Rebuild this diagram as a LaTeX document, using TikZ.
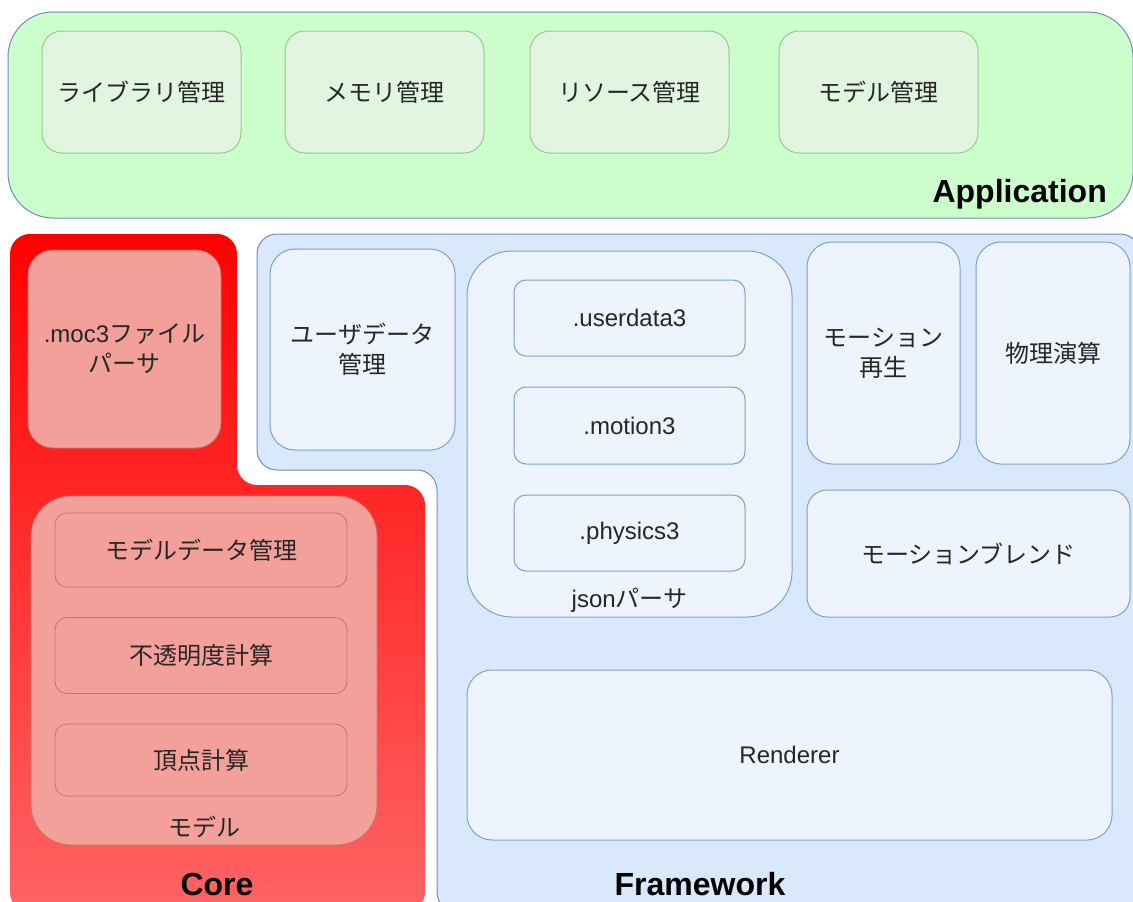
\documentclass[tikz,border=0pt]{standalone}
\usepackage{fontspec}
\setmainfont{Liberation Sans}
\newfontfamily\jp{Noto Sans CJK JP}
\definecolor{appfill}{HTML}{CCFFCC}
\definecolor{appstroke}{HTML}{6C8EBF}
\definecolor{appinfill}{HTML}{E2F5E0}
\definecolor{appinstroke}{HTML}{9CC78F}
\definecolor{corein}{HTML}{F4A09A}
\definecolor{coreinstroke}{HTML}{C0736E}
\definecolor{fwfill}{HTML}{DAE8FC}
\definecolor{fwstroke}{HTML}{6C8EBF}
\definecolor{fwin}{HTML}{EDF4FD}
\definecolor{fwinstroke}{HTML}{7EA0D6}
\definecolor{txt}{HTML}{262626}
\begin{document}
\begin{tikzpicture}[x=1pt,y=-1pt,
  lbl/.style={font=\fontsize{24}{30}\selectfont, text=txt, align=center, inner sep=0pt},
  big/.style={font=\fontsize{32}{36}\selectfont\bfseries, text=black, inner sep=0pt},
  appbox/.style={draw=appinstroke, fill=appinfill, line width=1pt, rounded corners=20pt, lbl},
  corebox/.style={draw=coreinstroke, fill=corein, line width=0.8pt, lbl},
  fwbox/.style={draw=fwinstroke, fill=fwin, line width=1pt, lbl}
]
\useasboundingbox (0,0) rectangle (1133,902);

% Application layer
\path[draw=appstroke, fill=appfill, line width=1pt, rounded corners=45pt]
  (8,12) rectangle (1133,218);
\node[appbox, minimum width=199pt, minimum height=122pt] (lib) at (141.5,92) {\jp ライブラリ管理};
\node[appbox, minimum width=199pt, minimum height=122pt] (mem) at (384.5,92) {\jp メモリ管理};
\node[appbox, minimum width=199pt, minimum height=122pt] (res) at (629.5,92) {\jp リソース管理};
\node[appbox, minimum width=199pt, minimum height=122pt] (mdl) at (878.5,92) {\jp モデル管理};
\node[big, anchor=east] (applbl) at (1107,194) {Application};

% Core layer
\shade[top color=red, bottom color={rgb,255:red,255;green,100;blue,100}, rounded corners=20pt]
  (10,234) -- (237,234) -- (237,485) -- (425,485) -- (425,912) -- (10,912) -- cycle;
\node[corebox, rounded corners=25pt, minimum width=193pt, minimum height=198pt] (moc) at (124.5,349)
  {.moc3{\jp ファイル}\\{\jp パーサ}};
\node[corebox, rounded corners=40pt, minimum width=346pt, minimum height=349pt] (model) at (204,670.5) {};
\node[corebox, rounded corners=12pt, minimum width=292pt, minimum height=74pt] (mdata) at (201,550) {\jp モデルデータ管理};
\node[corebox, rounded corners=12pt, minimum width=292pt, minimum height=76pt] (opac) at (201,655.5) {\jp 不透明度計算};
\node[corebox, rounded corners=12pt, minimum width=292pt, minimum height=72pt] (vert) at (201,760) {\jp 頂点計算};
\node[lbl] (modellbl) at (204,827) {\jp モデル};
\node[big] (corelbl) at (217,884) {Core};

% Framework layer
\path[draw=fwstroke, fill=fwfill, line width=1pt, rounded corners=20pt]
  (257,234) -- (1140,234) -- (1140,912) -- (437,912) -- (437,470) -- (257,470) -- cycle;
\node[fwbox, rounded corners=25pt, minimum width=185pt, minimum height=201pt] (user) at (362.5,349.5)
  {\jp ユーザデータ\\\jp 管理};
\node[fwbox, rounded corners=45pt, minimum width=325pt, minimum height=366pt] (json) at (629.5,434) {};
\node[fwbox, rounded corners=12pt, minimum width=231pt, minimum height=76pt] (ud3) at (629.5,318) {.userdata3};
\node[fwbox, rounded corners=12pt, minimum width=231pt, minimum height=77pt] (mo3) at (629.5,425.5) {.motion3};
\node[fwbox, rounded corners=12pt, minimum width=231pt, minimum height=76pt] (ph3) at (629.5,533) {.physics3};
\node[lbl] (jsonlbl) at (629.5,600) {json{\jp パーサ}};
\node[fwbox, rounded corners=25pt, minimum width=153pt, minimum height=222pt] (play) at (883.5,353)
  {\jp モーション\\\jp 再生};
\node[fwbox, rounded corners=25pt, minimum width=154pt, minimum height=222pt] (phys) at (1053,353) {\jp 物理演算};
\node[fwbox, rounded corners=20pt, minimum width=323pt, minimum height=127pt] (blend) at (968.5,553.5) {\jp モーションブレンド};
\node[fwbox, rounded corners=25pt, minimum width=645pt, minimum height=170pt] (rend) at (789.5,755) {Renderer};
\node[big] (fwlbl) at (700,884) {Framework};
\end{tikzpicture}
\end{document}
